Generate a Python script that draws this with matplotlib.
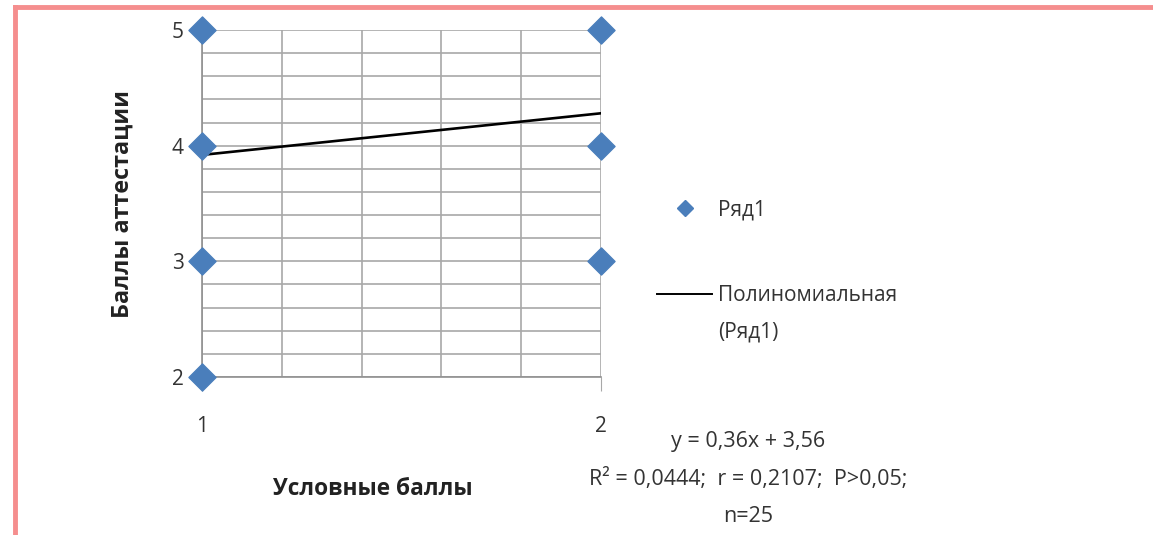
import matplotlib
matplotlib.use("Agg")
import matplotlib.pyplot as plt
from matplotlib.lines import Line2D
from matplotlib.ticker import MultipleLocator

# data
x_points = [1, 1, 1, 1, 2, 2, 2]
y_points = [5, 4, 3, 2, 5, 4, 3]
trend_x = [1, 2]
trend_y = [3.92, 4.28]
x_ticks = [1, 2]
y_ticks = [2, 3, 4, 5]
series_name = "Ряд1"
trend_name = "Полиномиальная"
eq_lines = ["y = 0,36x + 3,56",
            "R² = 0,0444;  r = 0,2107;  P>0,05;",
            "n=25"]

plt.rcParams["font.family"] = ["Open Sans", "DejaVu Sans"]

W, H = 1153, 535
fig = plt.figure(figsize=(W / 100, H / 100), dpi=100)
ax = fig.add_axes([202 / W, 1 - 377 / H, (601 - 202) / W, (377 - 30) / H])

blue = "#4A7EBB"
ax.scatter(x_points, y_points, marker="D", s=190, color=blue, zorder=5, clip_on=False)
ax.plot(trend_x, trend_y, color="black", lw=1.9, zorder=4)

ax.set_xlim(1, 2)
ax.set_ylim(2, 5)
ax.set_xticks(x_ticks)
ax.set_yticks(y_ticks)
ax.xaxis.set_minor_locator(MultipleLocator(0.2))
ax.yaxis.set_minor_locator(MultipleLocator(0.2))
ax.grid(which="both", color="#a8a8a8", lw=1.2)
ax.set_axisbelow(True)
for s in ["top", "right"]:
    ax.spines[s].set_visible(False)
for s in ["left", "bottom"]:
    ax.spines[s].set_color("#909090")
    ax.spines[s].set_linewidth(1.2)

ax.tick_params(axis="x", which="major", length=10, color="#a8a8a8", pad=18, labelsize=15, labelcolor="#333333")
ax.tick_params(axis="y", which="major", length=0, pad=13, labelsize=15, labelcolor="#333333")
ax.tick_params(which="minor", length=0)

ax.set_xlabel("Условные баллы", fontsize=16.3, fontweight="bold", color="#222222")
ax.xaxis.set_label_coords((373 - 202) / (601 - 202), -(477 - 377) / (377 - 30))
ax.set_ylabel("Баллы аттестации", fontsize=16.8, fontweight="bold", color="#222222")
ax.yaxis.set_label_coords(-(202 - 135) / (601 - 202), (377 - 204) / (377 - 30))

handles = [Line2D([], [], marker="D", ls="none", color=blue, markersize=8),
           Line2D([], [], color="black", lw=1.4)]
fig.legend(handles, [series_name, trend_name], loc="center left",
           bbox_to_anchor=(647 / W, 1 - 253 / H), frameon=False, fontsize=15,
           handlelength=2.6, handletextpad=0.3, labelspacing=3.1, borderpad=0,
           labelcolor="#333333")
fig.text(718 / W, 1 - 332 / H, "(" + series_name + ")", fontsize=15, color="#333333",
         va="center", ha="left")

for i, line in enumerate(eq_lines):
    fig.text(748 / W, 1 - (442 + 37.5 * i) / H, line, fontsize=15.5, color="#333333",
             ha="center", va="center")

# pink frame (top and left edges visible)
fig.add_artist(Line2D([15 / W, 15 / W], [0, 1 - 6.5 / H], transform=fig.transFigure,
                      color="#F58E8E", lw=3.5, solid_capstyle="projecting"))
fig.add_artist(Line2D([15 / W, 1], [1 - 6.5 / H, 1 - 6.5 / H], transform=fig.transFigure,
                      color="#F58E8E", lw=3.5, solid_capstyle="projecting"))

fig.savefig("out.png", dpi=100)
